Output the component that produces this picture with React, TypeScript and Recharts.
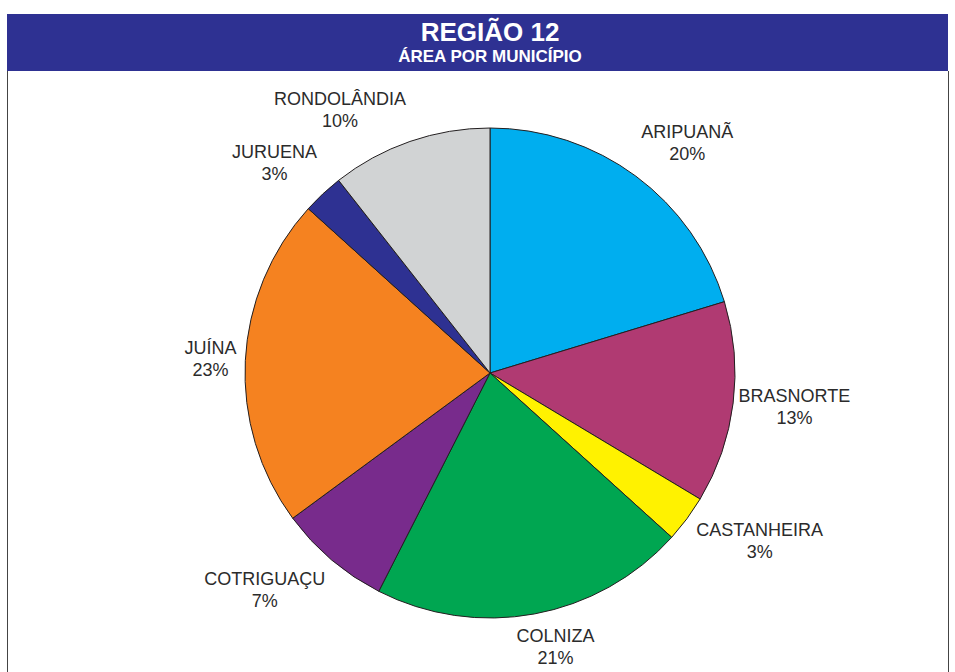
import { PieChart, Pie, Cell } from "recharts";

const municipios = [
  "ARIPUANÃ",
  "BRASNORTE",
  "CASTANHEIRA",
  "COLNIZA",
  "COTRIGUAÇU",
  "JUÍNA",
  "JURUENA",
  "RONDOLÂNDIA",
];
const areas = [20.3, 13.3, 3.1, 20.8, 7.4, 21.8, 2.7, 10.6];
const percentLabels = ["20%", "13%", "3%", "21%", "7%", "23%", "3%", "10%"];
const colors = [
  "#00AEEF",
  "#B03A72",
  "#FFF200",
  "#00A651",
  "#782B8C",
  "#F58220",
  "#2E3192",
  "#D1D3D4",
];

const data = municipios.map((name, i) => ({ name, value: areas[i] }));

// small hand nudges, the original labels were placed by hand
const nudge = [
  [18, -7],
  [0, 0],
  [14, 3],
  [12, 2],
  [-23, 6],
  [4, 0],
  [-14, -7],
  [-46, -1],
];

const RAD = Math.PI / 180;

const renderLabel = (props: any) => {
  const { cx, cy, midAngle, outerRadius, index } = props;
  const cos = Math.cos(-midAngle * RAD);
  const sin = Math.sin(-midAngle * RAD);
  const r = outerRadius + 10;
  const w = municipios[index].length * 11.5;
  const h = 44;
  const x = cx + r * cos + (cos * w) / 2 + nudge[index][0];
  const y = cy + r * sin + (sin * h) / 2 + nudge[index][1];
  return (
    <text
      x={x}
      y={y}
      textAnchor="middle"
      fill="#2b2b2b"
      fontSize={18}
      fontFamily="'Liberation Sans', Arial, sans-serif"
    >
      <tspan x={x} dy={-5}>
        {municipios[index]}
      </tspan>
      <tspan x={x} dy={22}>
        {percentLabels[index]}
      </tspan>
    </text>
  );
};

export default function App() {
  return (
    <div
      style={{
        position: "absolute",
        left: 0,
        top: 0,
        width: 955,
        height: 672,
        background: "#fff",
        overflow: "hidden",
        fontFamily: "'Liberation Sans', Arial, sans-serif",
      }}
    >
      <div
        style={{
          position: "absolute",
          left: 7,
          top: 71,
          width: 940,
          height: 620,
          borderLeft: "1px solid #444",
          borderRight: "1px solid #444",
        }}
      />
      <div
        style={{
          position: "absolute",
          left: 7,
          top: 14,
          width: 941,
          height: 57,
          background: "#2E3192",
        }}
      />
      <div
        style={{
          position: "absolute",
          left: 290,
          top: 18,
          width: 400,
          textAlign: "center",
          color: "#fff",
          fontWeight: "bold",
          fontSize: 26,
          lineHeight: "28px",
        }}
      >
        REGIÃO 12
      </div>
      <div
        style={{
          position: "absolute",
          left: 290,
          top: 47,
          width: 400,
          textAlign: "center",
          color: "#fff",
          fontWeight: "bold",
          fontSize: 17,
          lineHeight: "20px",
        }}
      >
        ÁREA POR MUNICÍPIO
      </div>
      <div style={{ position: "absolute", left: 0, top: 0 }}>
        <PieChart width={955} height={672}>
          <Pie
            data={data}
            dataKey="value"
            nameKey="name"
            cx={485}
            cy={368}
            outerRadius={245}
            startAngle={90}
            endAngle={-270}
            stroke="#231F20"
            strokeWidth={1}
            label={renderLabel}
            labelLine={false}
            isAnimationActive={false}
          >
            {data.map((d, i) => (
              <Cell key={d.name} fill={colors[i]} />
            ))}
          </Pie>
        </PieChart>
      </div>
    </div>
  );
}
